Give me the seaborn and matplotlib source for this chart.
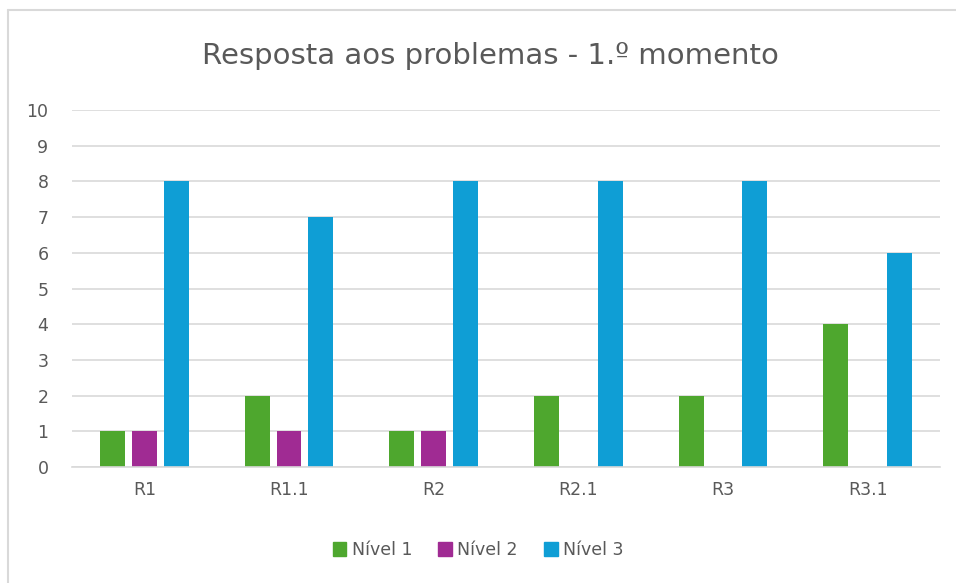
import pandas as pd
import matplotlib.pyplot as plt
import seaborn as sns
from matplotlib.lines import Line2D

# data
categories = ['R1', 'R1.1', 'R2', 'R2.1', 'R3', 'R3.1']
nivel1 = [1, 2, 1, 2, 2, 4]
nivel2 = [1, 1, 1, 0, 0, 0]
nivel3 = [8, 7, 8, 8, 8, 6]
series = ['Nível 1', 'Nível 2', 'Nível 3']
colors = ['#4EA72E', '#A02B93', '#0F9ED5']

df = pd.DataFrame({'cat': categories, 'Nível 1': nivel1, 'Nível 2': nivel2, 'Nível 3': nivel3})
df = df.melt(id_vars='cat', var_name='nivel', value_name='valor')

sns.set_style('white')
plt.rcParams['font.family'] = ['DejaVu Sans']
text_col = '#595959'

fig = plt.figure(figsize=(9.56, 5.83), dpi=100)
ax = fig.add_axes([72 / 956, 1 - 467 / 583, (940 - 72) / 956, (467 - 110) / 583])

sns.barplot(data=df, x='cat', y='valor', hue='nivel', hue_order=series,
            palette=colors, saturation=1, width=0.66, gap=0.22, linewidth=0, ax=ax)

ax.set_ylim(0, 10)
ax.set_yticks(range(0, 11))
ax.set_xlim(-0.5, len(categories) - 0.5)
ax.yaxis.grid(True, color='#D9D9D9', linewidth=1.2)
ax.set_axisbelow(True)
for s in ['top', 'right', 'left']:
    ax.spines[s].set_visible(False)
ax.spines['bottom'].set_color('#D9D9D9')
ax.spines['bottom'].set_linewidth(1.2)
ax.tick_params(axis='both', length=0, labelsize=12.5, colors=text_col, pad=10)
ax.tick_params(axis='y', pad=17)
ax.set_xlabel('')
ax.set_ylabel('')

ax.legend_.remove()
handles = [plt.Rectangle((0, 0), 1, 1, color=c) for c in colors]
fig.legend(handles, series, loc='center', bbox_to_anchor=(0.5, 1 - 550 / 583),
           ncol=3, frameon=False, fontsize=12.5, labelcolor=text_col,
           handlelength=0.8, handleheight=0.8, handletextpad=0.3, columnspacing=1.5)

fig.text(0.513, 1 - 56 / 583, 'Resposta aos problemas - 1.º momento',
         ha='center', va='center', fontsize=21, color=text_col)

# chart frame
fig.add_artist(Line2D([8 / 956, 1], [1 - 10 / 583] * 2, color='#D9D9D9', lw=1.5))
fig.add_artist(Line2D([8 / 956] * 2, [0, 1 - 10 / 583], color='#D9D9D9', lw=1.5))

fig.savefig('out.png', dpi=100)
